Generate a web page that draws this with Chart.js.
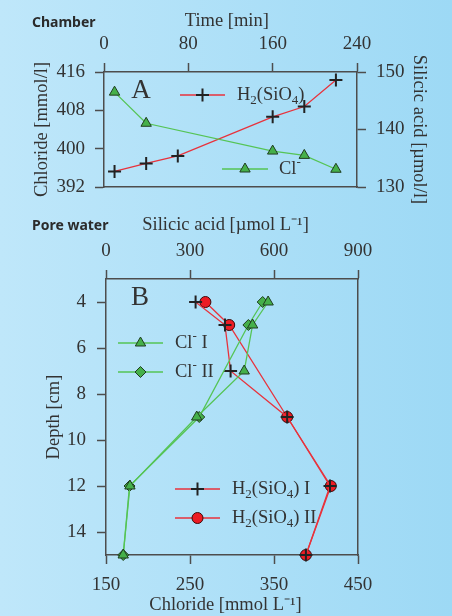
<!DOCTYPE html>
<html>
<head>
<meta charset="utf-8">
<script src="https://cdn.jsdelivr.net/npm/chart.js@4.4.0/dist/chart.umd.min.js"></script>
<style>
  html, body { margin: 0; padding: 0; }
  body {
    width: 452px; height: 616px; position: relative; overflow: hidden;
    background: linear-gradient(to right, #bfe7fa, #9dd9f5);
  }
  canvas { position: absolute; left: 0; }
  #chamberChart { top: 0; }
  #poreChart { top: 200px; }
  .panel-name {
    position: absolute; left: 32px;
    font: bold 14px 'Noto Sans', sans-serif; line-height: 14px; color: #2b2b2b;
  }
</style>
</head>
<body>
<canvas id="poreChart" width="452" height="416"></canvas>
<canvas id="chamberChart" width="452" height="222"></canvas>
<div class="panel-name" style="top:15px">Chamber</div>
<div class="panel-name" style="top:218px">Pore water</div>
<script>
// Panel A - chamber experiment
const chamberTimeCl = [10, 40, 160, 190, 220];
const chamberChloride = [411.8, 405.3, 399.5, 398.6, 395.7];
const chamberTimeSi = [10, 40, 70, 160, 190, 220];
const chamberSilica = [132.7, 134.1, 135.4, 142.2, 144.0, 148.6];

const timeTicks = [0, 80, 160, 240];
const chlorideTicksA = [392, 400, 408, 416];
const silicaTicksA = [130, 140, 150];

// Panel B - pore water profiles (cores I and II)
const depthI = [4, 5, 7, 9, 12, 15];
const depthII = [4, 5, 9, 12, 15];
const chlorideI = [343, 324.5, 314.5, 258, 178.5, 170.5];
const chlorideII = [336.5, 319.5, 261, 178, 170.5];
const silicaI = [320, 425, 445, 647, 800, 714];
const silicaII = [355, 440, 647, 803, 714];

const depthTicks = [4, 6, 8, 10, 12, 14];
const silicaTicksB = [0, 300, 600, 900];
const chlorideTicksB = [150, 250, 350, 450];

const AXIS = '#4d4d4d';
const TEXT = '#333';
const GREEN = '#45b04a';
const GREEN_LINE = '#55c455';
const RED = '#ec1c24';
const RED_LINE = '#e8323c';
const SERIF = "'Liberation Serif', 'Times New Roman', serif";

Chart.defaults.font.family = SERIF;
Chart.defaults.color = TEXT;

function pts(xs, ys) {
  return xs.map((v, i) => ({ x: v, y: ys[i] }));
}

// fixed thickness so the plot box lands where it should; labels may overhang
function fixSize(s, size) {
  if (s.isHorizontal()) {
    s.height = size;
    s.paddingLeft = 0; s.paddingRight = 0;
  } else {
    s.width = size;
    s.paddingTop = 0; s.paddingBottom = 0;
  }
}

function axis(position, min, max, ticks, size, tickPad, title, titlePad, extra) {
  return Object.assign({
    type: 'linear', position: position, min: min, max: max,
    afterBuildTicks: s => { s.ticks = ticks.map(v => ({ value: v })); },
    afterFit: s => fixSize(s, size),
    grid: { display: true, drawOnChartArea: false, drawTicks: true, tickLength: 9, tickWidth: 1.5, tickColor: AXIS },
    border: { display: true, color: AXIS, width: 1.5 },
    ticks: { padding: tickPad, color: TEXT, font: { size: 19 }, autoSkip: false, maxRotation: 0 },
    title: { display: !!title, text: title, color: TEXT, font: { size: 18.5 }, padding: titlePad }
  }, extra || {});
}

// plain edge of the box, no ticks
function frame(position, size) {
  return {
    type: 'linear', position: position,
    afterBuildTicks: s => { s.ticks = []; },
    afterFit: s => fixSize(s, size),
    grid: { display: false },
    border: { display: true, color: AXIS, width: 1.5 },
    ticks: { display: false }
  };
}

function richParts(str) {
  const parts = [];
  for (let i = 0; i < str.length; i++) {
    const c = str[i];
    if ((c === '_' || c === '^') && i + 1 < str.length) {
      parts.push({ t: str[i + 1], k: c });
      i++;
    } else {
      const last = parts[parts.length - 1];
      if (last && !last.k) last.t += c; else parts.push({ t: c });
    }
  }
  return parts;
}

function drawRich(ctx, str, x, y) {
  ctx.textBaseline = 'middle';
  ctx.textAlign = 'left';
  ctx.fillStyle = TEXT;
  richParts(str).forEach(p => {
    ctx.font = (p.k ? '13px ' : '18.5px ') + SERIF;
    const dy = p.k === '_' ? 6 : p.k === '^' ? -6 : 0;
    ctx.fillText(p.t, x, y + dy);
    x += ctx.measureText(p.t).width;
  });
}

// keys inside the plot box + panel letter
const keyPlugin = {
  id: 'keys',
  afterDatasetsDraw(chart, args, opts) {
    const ctx = chart.ctx;
    const area = chart.chartArea;
    ctx.save();
    (opts.items || []).forEach(item => {
      const ds = chart.data.datasets[item.dataset];
      const x = area.left + item.x;
      const y = area.top + item.y;
      ctx.strokeStyle = ds.borderColor;
      ctx.lineWidth = ds.borderWidth;
      ctx.beginPath();
      ctx.moveTo(x, y);
      ctx.lineTo(x + item.len, y);
      ctx.stroke();
      ctx.fillStyle = ds.pointBackgroundColor;
      ctx.strokeStyle = ds.pointBorderColor;
      ctx.lineWidth = ds.pointBorderWidth;
      Chart.helpers.drawPoint(ctx, { pointStyle: ds.pointStyle, radius: ds.pointRadius, borderWidth: ds.pointBorderWidth, rotation: 0 }, x + item.len / 2, y);
      drawRich(ctx, item.text, x + item.len + item.gap, y);
    });
    if (opts.letter) {
      ctx.font = '27px ' + SERIF;
      ctx.fillStyle = TEXT;
      ctx.textAlign = 'center';
      ctx.textBaseline = 'middle';
      ctx.fillText(opts.letter.text, area.left + opts.letter.x, area.top + opts.letter.y);
    }
    ctx.restore();
  }
};

const baseOptions = {
  responsive: false,
  animation: false,
  layout: { padding: 0 },
  elements: { line: { tension: 0 } }
};

// Panel A
new Chart('chamberChart', {
  type: 'scatter',
  data: {
    datasets: [{
      label: 'Cl-',
      data: pts(chamberTimeCl, chamberChloride),
      xAxisID: 'x', yAxisID: 'y',
      showLine: true, clip: false,
      borderColor: GREEN_LINE, borderWidth: 1.3,
      pointStyle: 'triangle', pointRadius: 6,
      pointBackgroundColor: GREEN, pointBorderColor: '#1f3d1f', pointBorderWidth: 1
    }, {
      label: 'H2(SiO4)',
      data: pts(chamberTimeSi, chamberSilica),
      xAxisID: 'x', yAxisID: 'y2',
      showLine: true, clip: false,
      borderColor: RED_LINE, borderWidth: 1.3,
      pointStyle: 'cross', pointRadius: 6.5,
      pointBackgroundColor: '#222', pointBorderColor: '#222', pointBorderWidth: 2
    }]
  },
  options: Object.assign({}, baseOptions, {
    scales: {
      x: axis('top', 0, 240, timeTicks, 72, 8, 'Time [min]\u2009\u2009', { top: 10, bottom: 0 }),
      xb: frame('bottom', 35),
      y: axis('left', 392, 416, chlorideTicksA, 104, 10, 'Chloride [mmol/l]', { top: 31.5, bottom: 0 }),
      y2: axis('right', 130, 150, silicaTicksA, 95, 10, 'Silicic acid [\u00b5mol/l]', { top: 22, bottom: 0 })
    },
    plugins: {
      legend: { display: false },
      tooltip: { enabled: false },
      keys: {
        items: [
          { dataset: 1, x: 76, y: 23, len: 45, gap: 12, text: 'H_2(SiO_4)' },
          { dataset: 0, x: 118, y: 97, len: 46, gap: 11, text: 'Cl^-' }
        ],
        letter: { text: 'A', x: 37, y: 19 }
      }
    }
  }),
  plugins: [keyPlugin]
});

// Panel B
new Chart('poreChart', {
  type: 'scatter',
  data: {
    datasets: [{
      label: 'Cl- I',
      data: pts(chlorideI, depthI),
      xAxisID: 'x2', yAxisID: 'y',
      showLine: true, clip: false,
      borderColor: GREEN_LINE, borderWidth: 1.3,
      pointStyle: 'triangle', pointRadius: 6,
      pointBackgroundColor: GREEN, pointBorderColor: '#1f3d1f', pointBorderWidth: 1
    }, {
      label: 'Cl- II',
      data: pts(chlorideII, depthII),
      xAxisID: 'x2', yAxisID: 'y',
      showLine: true, clip: false,
      borderColor: GREEN_LINE, borderWidth: 1.3,
      pointStyle: 'rectRot', pointRadius: 5.5,
      pointBackgroundColor: GREEN, pointBorderColor: '#1f3d1f', pointBorderWidth: 1
    }, {
      label: 'H2(SiO4) I',
      data: pts(silicaI, depthI),
      xAxisID: 'x', yAxisID: 'y',
      showLine: true, clip: false,
      borderColor: RED_LINE, borderWidth: 1.3,
      pointStyle: 'cross', pointRadius: 6.5,
      pointBackgroundColor: '#222', pointBorderColor: '#222', pointBorderWidth: 2
    }, {
      label: 'H2(SiO4) II',
      data: pts(silicaII, depthII),
      xAxisID: 'x', yAxisID: 'y',
      showLine: true, clip: false,
      borderColor: RED_LINE, borderWidth: 1.3,
      pointStyle: 'circle', pointRadius: 5.5,
      pointBackgroundColor: RED, pointBorderColor: '#3a0a0a', pointBorderWidth: 1
    }]
  },
  options: Object.assign({}, baseOptions, {
    scales: {
      x: axis('top', 0, 900, silicaTicksB, 79, 8, 'Silicic acid [\u00b5mol L\u207b\u00b9]\u2002\u2009', { top: 14, bottom: 0 }),
      x2: axis('bottom', 150, 450, chlorideTicksB, 61, 10, 'Chloride [mmol L\u207b\u00b9]\u2002\u2009', { top: 0, bottom: 0 }),
      y: axis('left', 3, 15, depthTicks, 106, 11, 'Depth [cm]', { top: 43, bottom: 0 }, { reverse: true }),
      yr: frame('right', 94)
    },
    plugins: {
      legend: { display: false },
      tooltip: { enabled: false },
      keys: {
        items: [
          { dataset: 0, x: 12, y: 64, len: 45, gap: 12, text: 'Cl^- I' },
          { dataset: 1, x: 12, y: 93, len: 45, gap: 12, text: 'Cl^- II' },
          { dataset: 2, x: 69, y: 210, len: 45, gap: 12, text: 'H_2(SiO_4) I' },
          { dataset: 3, x: 69, y: 239, len: 45, gap: 12, text: 'H_2(SiO_4) II' }
        ],
        letter: { text: 'B', x: 34, y: 19 }
      }
    }
  }),
  plugins: [keyPlugin]
});
</script>
</body>
</html>
